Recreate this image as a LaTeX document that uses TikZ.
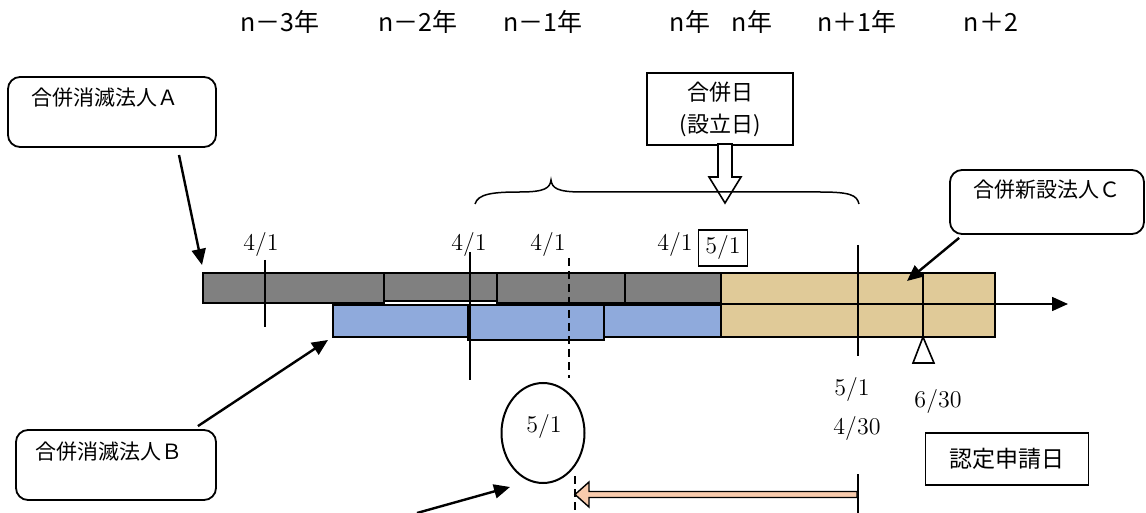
\documentclass[tikz,border=0pt]{standalone}
\usepackage{fontspec}
\newfontfamily\jp{Noto Sans CJK JP}
\usetikzlibrary{arrows.meta,positioning,shapes.geometric}

\definecolor{BarGray}{RGB}{128,128,128}
\definecolor{BarBlue}{RGB}{143,170,220}
\definecolor{BarTan}{RGB}{224,202,152}
\definecolor{ArrowSalmon}{RGB}{248,203,173}

\begin{document}
\begin{tikzpicture}[x=0.5pt,y=-0.5pt,>={Triangle[length=8pt,width=7pt]},
	Pointer/.style={->,line width=1.2pt},
	Tick/.style={line width=0.7pt},
	Bar/.style={draw=black,line width=0.8pt},
	RoundBox/.style={draw,rounded corners=6pt,line width=0.9pt,inner sep=0pt},
	PlainBox/.style={draw,line width=0.7pt,inner sep=0pt},
	YearLabel/.style={font=\jp\fontsize{12.5}{14}\selectfont},
	JpLabel/.style={font=\jp\fontsize{10.5}{13}\selectfont,inner sep=0pt},
	DateLabel/.style={font=\fontsize{12}{14}\selectfont,inner sep=0pt},
]
	\useasboundingbox (0,0) rectangle (1146,513);

	% year row
	\node[YearLabel] (y1) at (280,22) {n－3年};
	\node[YearLabel] (y2) at (418,22) {n－2年};
	\node[YearLabel] (y3) at (543,22) {n－1年};
	\node[YearLabel] (y4) at (690,22) {n年};
	\node[YearLabel] (y5) at (752,22) {n年};
	\node[YearLabel] (y6) at (857,22) {n＋1年};
	\node[YearLabel] (y7) at (991,22) {n＋2};

	% corporations
	\node[RoundBox,minimum width=104pt,minimum height=35pt] (boxA) at (112,112) {};
	\node[JpLabel,anchor=west] (textA) at (31,98) {合併消滅法人Ａ};
	\node[RoundBox,minimum width=100pt,minimum height=35pt] (boxB) at (116,465) {};
	\node[JpLabel,anchor=west] (textB) at (35,452) {合併消滅法人Ｂ};
	\node[RoundBox,minimum width=97pt,minimum height=32pt] (boxC) at (1047,202) {};
	\node[JpLabel,anchor=west] (textC) at (973,190) {合併新設法人Ｃ};

	% merger date
	\node[PlainBox,minimum width=73pt,minimum height=36pt,align=center,
		font=\jp\fontsize{11}{16}\selectfont] (merge) at (720,109) {合併日\\(設立日)};
	\draw[line width=0.8pt,fill=white] (718,144) -- (718,177) -- (709,177) -- (725,203)
		-- (741,177) -- (732,177) -- (732,144) -- cycle;
	\draw[line width=0.75pt] (475,204) .. controls (478,194) and (492,192) .. (520,192)
		.. controls (545,192) and (550,188) .. (551,180)
		.. controls (552,188) and (557,192) .. (582,192) -- (820,192)
		.. controls (850,192) and (857,195) .. (859,204);

	% fiscal years
	\draw[Bar,fill=BarGray] (203,273) rectangle (384,303);
	\draw[Bar,fill=BarGray] (384,273) rectangle (497,301);
	\draw[Bar,fill=BarGray] (497,273) rectangle (625,303);
	\draw[Bar,fill=BarGray] (625,273) rectangle (721,303);
	\draw[Bar,fill=BarBlue] (333,305) rectangle (468,337);
	\draw[Bar,fill=BarBlue] (468,305) rectangle (604,340);
	\draw[Bar,fill=BarBlue] (604,305) rectangle (721,337);
	\draw[Bar,fill=BarTan] (721,273) rectangle (995,337);
	\draw[->,line width=0.8pt] (721,304) -- (1068,304);

	% ticks
	\draw[Tick] (265,260) -- (265,327);
	\draw[Tick] (470,252) -- (470,380);
	\draw[Tick,dash pattern=on 4pt off 2.5pt] (569,258) -- (569,378);
	\draw[Tick,dash pattern=on 4pt off 2.5pt] (575,476) -- (575,513);
	\draw[Tick] (858,245) -- (858,356);
	\draw[Tick] (858,474) -- (858,513);
	\draw[Tick] (923,273) -- (923,337);
	\draw[line width=0.8pt,fill=white] (923,337) -- (913,363) -- (934,363) -- cycle;

	% dates
	\node[DateLabel] (d1) at (261,245) {4/1};
	\node[DateLabel] (d2) at (469,245) {4/1};
	\node[DateLabel] (d3) at (548,245) {4/1};
	\node[DateLabel] (d4) at (675,245) {4/1};
	\node[PlainBox,minimum width=24.5pt,minimum height=18pt,
		font=\fontsize{12}{14}\selectfont] (d5) at (723,248) {5/1};
	\node[DateLabel] (d6) at (852,389) {5/1};
	\node[DateLabel] (d7) at (857,428) {4/30};
	\node[DateLabel] (d8) at (938,401) {6/30};
	\node[draw,ellipse,line width=1pt,minimum width=41.5pt,minimum height=50pt,
		inner sep=0pt] (circ) at (543,433) {};
	\node[DateLabel] (d9) at (544,426) {5/1};
	\node[PlainBox,minimum width=81.5pt,minimum height=26pt,
		font=\jp\fontsize{11.5}{13}\selectfont] (apply) at (1007,459) {認定申請日};

	% back arrow
	\draw[line width=0.7pt,fill=ArrowSalmon] (857,491.5) -- (589,491.5) -- (589,482)
		-- (575,494.5) -- (589,507) -- (589,497.5) -- (857,497.5) -- cycle;

	% pointers
	\coordinate (tipA) at (202,265);
	\coordinate (tipB) at (328,340);
	\coordinate (tipC) at (907,281);
	\coordinate (tailE) at (417,513);
	\draw[Pointer] (179,155) -- (tipA);
	\draw[Pointer] (boxB.north east) ++(-19,-3) -- (tipB);
	\draw[Pointer] (boxC.south west) ++(10,3) -- (tipC);
	\draw[Pointer] (tailE) -- ([shift={(-33,54)}]circ.center);
\end{tikzpicture}
\end{document}
